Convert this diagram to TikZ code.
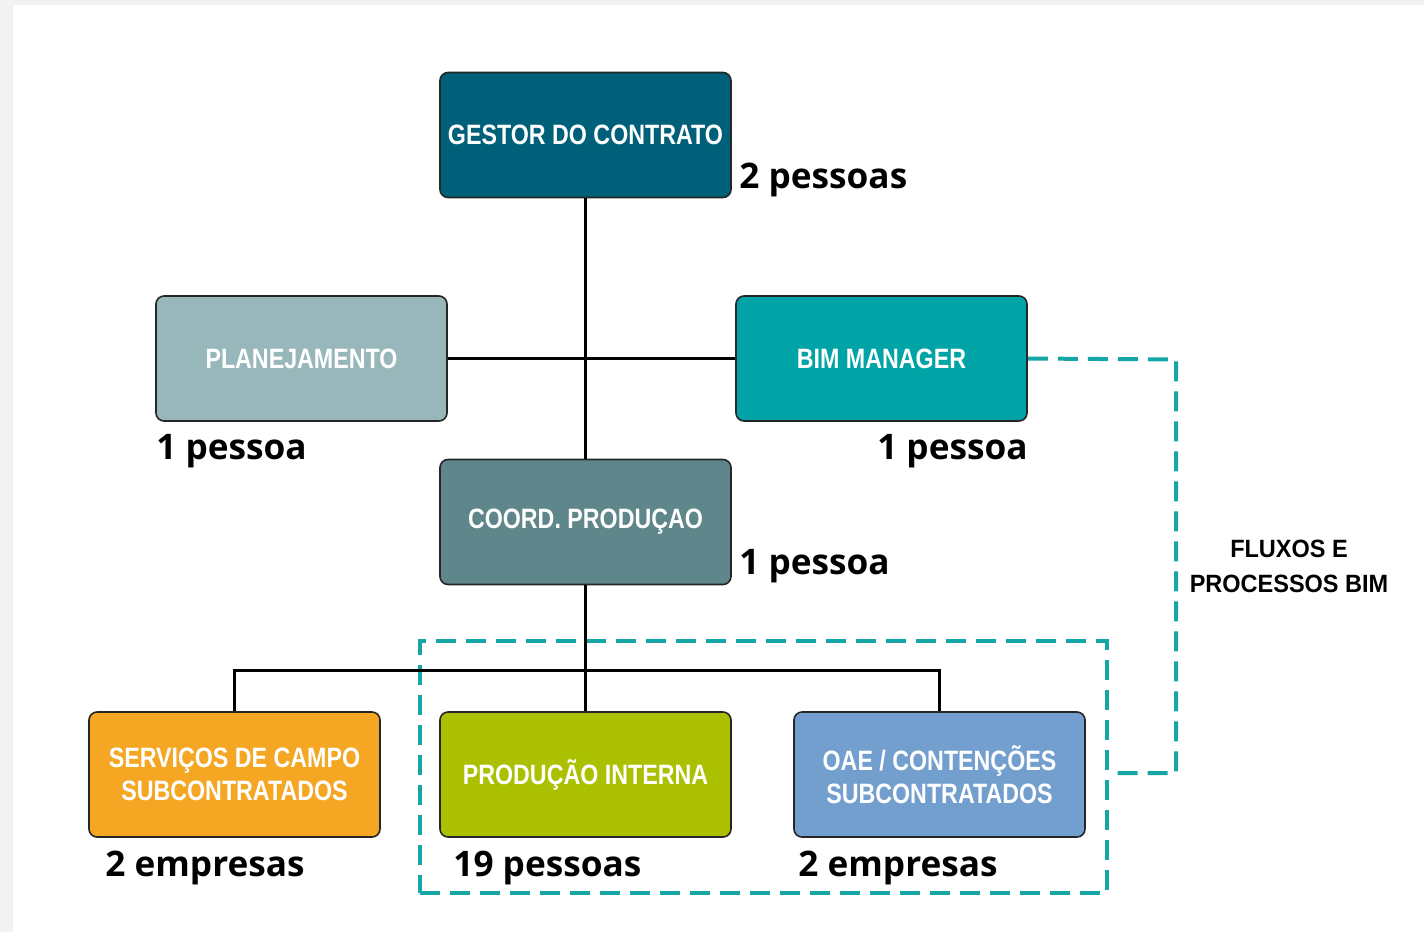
\documentclass[tikz,border=0pt]{standalone}
\usepackage{fontspec}
\setmainfont{Open Sans}
\newfontfamily\boxfont[FakeStretch=0.83]{Liberation Sans}
\newfontfamily\flowfont[FakeStretch=0.94]{Liberation Sans}
\usetikzlibrary{positioning}
\definecolor{gestorcol}{HTML}{00607A}
\definecolor{plancol}{HTML}{97B7BB}
\definecolor{bimcol}{HTML}{00A4A6}
\definecolor{coordcol}{HTML}{5E868B}
\definecolor{servcol}{HTML}{F5A623}
\definecolor{prodcol}{HTML}{ABC000}
\definecolor{oaecol}{HTML}{739FCF}
\definecolor{flowcol}{HTML}{17A6A6}
\definecolor{backcol}{HTML}{F2F2F2}
\begin{document}
\begin{tikzpicture}[x=0.5pt, y=-0.5pt,
    unit/.style={draw=black!85, line width=0.8pt, rounded corners=4pt, minimum width=145.5pt, minimum height=62.5pt, inner sep=0pt, align=center, text=white, font=\boxfont\bfseries\fontsize{14}{16.5}\selectfont},
    count/.style={inner sep=0pt, font=\bfseries\fontsize{17.6}{20}\selectfont},
    conn/.style={line width=1.5pt},
    flow/.style={draw=flowcol, line width=2pt, dash pattern=on 10pt off 5pt}]
        \useasboundingbox (0,0) rectangle (1424,932);
        \fill[backcol] (0,0) rectangle (1424,932);
        \fill[white] (13,5) rectangle (1424,932);

        \node[flow, minimum width=343.5pt, minimum height=126pt, inner sep=0pt] (grp) at (763.5,767) {};

        \node[unit, fill=gestorcol] (gestor) at (585.5,135) {GESTOR DO CONTRATO};
        \node[unit, fill=plancol] (plan) at (301.5,358.5) {PLANEJAMENTO};
        \node[unit, fill=bimcol] (bim) at (881.5,358.5) {BIM MANAGER};
        \node[unit, fill=coordcol] (coord) at (585.5,522) {COORD. PRODUÇAO};
        \node[unit, fill=servcol] (serv) at (234.5,774.5) {SERVIÇOS DE CAMPO\\SUBCONTRATADOS};
        \node[unit, fill=prodcol] (prod) at (585.5,774.5) {PRODUÇÃO INTERNA};
        \node[unit, fill=oaecol] (oae) at (939.5,774.5) {OAE / CONTENÇÕES\\SUBCONTRATADOS};

        \node[count, anchor=west] (ngestor) at (739,180) {2 pessoas};
        \node[count, anchor=west] (nplan) at (156,451) {1 pessoa};
        \node[count, anchor=east] (nbim) at (1028,451) {1 pessoa};
        \node[count, anchor=west] (ncoord) at (739,566.5) {1 pessoa};
        \node[count, anchor=west] (nserv) at (105,868) {2 empresas};
        \node[count, anchor=west] (nprod) at (453,868) {19 pessoas};
        \node[count, anchor=west] (noae) at (798,868) {2 empresas};

        \draw[conn] (gestor) -- (coord);
        \draw[conn] (plan) -- (bim);
        \coordinate (bus) at (585.5,670);
        \draw[conn] (coord) -- (bus);
        \draw[conn] (serv.north) |- (bus) -| (oae.north);
        \draw[conn] (bus) -- (prod);

        \coordinate (bend) at (1176,359.5);
        \draw[flow] (bim.east) -- (bend) |- ([yshift=-3pt]grp.east);
        \node[align=center, font=\flowfont\bfseries\fontsize{12.5}{17.5}\selectfont] (flowlbl) at (1289,566.5) {FLUXOS E\\PROCESSOS BIM};
      \end{tikzpicture}
\end{document}
